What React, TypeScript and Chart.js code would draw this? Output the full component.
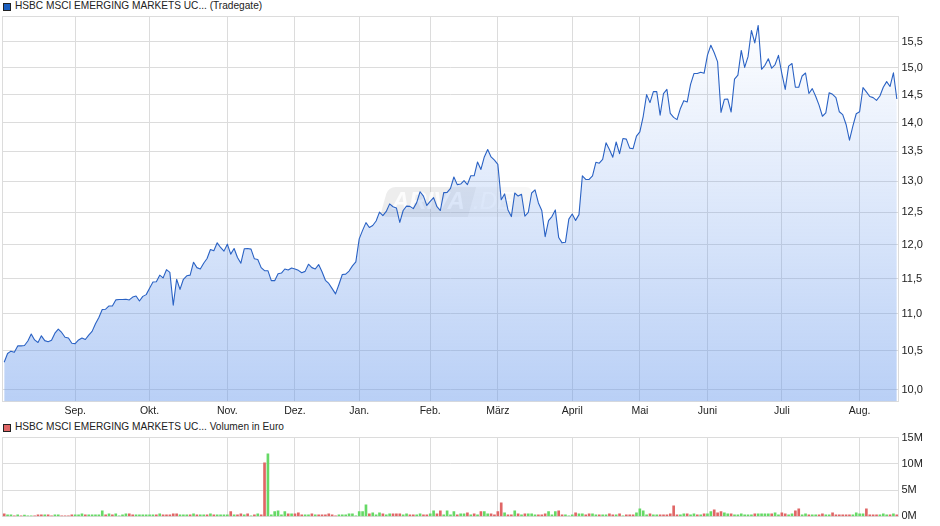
import { useEffect, useRef } from 'react';
import { Chart, registerables } from 'chart.js';

Chart.register(...registerables);

const FONT = '"Liberation Sans", Arial, sans-serif';
const GRID = '#dcdcdc';

const PRICE_TITLE = 'HSBC MSCI EMERGING MARKETS UC... (Tradegate)';
const VOLUME_TITLE = 'HSBC MSCI EMERGING MARKETS UC... Volumen in Euro';

const MONTH_LABELS = ['Sep.', 'Okt.', 'Nov.', 'Dez.', 'Jan.', 'Feb.', 'März', 'April', 'Mai', 'Juni', 'Juli', 'Aug.'];
const MONTH_INDEX = [21, 43, 66, 86, 105, 126, 146, 168, 188, 208, 230, 253];

const PRICE_TICKS = [10, 10.5, 11, 11.5, 12, 12.5, 13, 13.5, 14, 14.5, 15, 15.5];
const VOLUME_TICKS = [0, 5, 10, 15];

const CLOSES = [
  10.35, 10.465, 10.495, 10.48, 10.565, 10.565, 10.57, 10.63, 10.725, 10.645,
  10.61, 10.7, 10.635, 10.62, 10.64, 10.735, 10.79, 10.745, 10.68, 10.67,
  10.6, 10.595, 10.645, 10.67, 10.65, 10.71, 10.76, 10.865, 10.95, 11.06,
  11.065, 11.11, 11.11, 11.195, 11.2, 11.2, 11.205, 11.195, 11.235, 11.25,
  11.18, 11.245, 11.27, 11.36, 11.45, 11.455, 11.55, 11.51, 11.63, 11.59,
  11.12, 11.49, 11.345, 11.49, 11.54, 11.55, 11.74, 11.66, 11.64, 11.725,
  11.795, 11.93, 11.91, 12.03, 11.96, 11.905, 12.01, 11.86, 11.945, 11.81,
  11.725, 11.94, 11.945, 11.935, 11.79, 11.78, 11.66, 11.615, 11.615, 11.47,
  11.47, 11.57, 11.58, 11.64, 11.625, 11.655, 11.64, 11.62, 11.585, 11.605,
  11.71, 11.66, 11.64, 11.705,
  11.6, 11.475, 11.43, 11.355, 11.28, 11.415, 11.56, 11.565, 11.61, 11.685,
  11.745, 12.09, 12.22, 12.34, 12.265, 12.295, 12.365, 12.505, 12.45, 12.515,
  12.635, 12.59, 12.57, 12.345, 12.53, 12.6, 12.595, 12.56, 12.655, 12.83,
  12.76, 12.61, 12.675, 12.735, 12.59, 12.53, 12.815, 12.82, 12.885, 13.07,
  12.945, 12.955, 13.01, 12.945, 13.09, 13.09, 13.32, 13.195, 13.405, 13.53,
  13.405, 13.35, 13.28, 12.7, 12.795, 12.54, 12.435, 12.81, 12.76, 12.79,
  12.44, 12.5, 12.81, 12.86, 12.65, 12.53, 12.125, 12.37, 12.435, 12.54,
  12.11, 12.03, 12.04, 12.395, 12.475, 12.375, 12.465, 13.09, 13.03, 13.03,
  13.09, 13.315, 13.3, 13.365, 13.645, 13.53, 13.4, 13.66, 13.46, 13.72,
  13.71, 13.555, 13.545, 13.76, 13.835,
  14.11, 14.5, 14.355, 14.555, 14.555, 14.13, 14.52, 14.595, 14.16, 14.09,
  14.05, 14.25, 14.39, 14.365, 14.69, 14.89, 14.89, 14.915, 14.895, 15.24,
  15.43, 15.285, 15.11, 14.18, 14.415, 14.42, 14.185, 14.785, 14.86, 15.33,
  15.005, 15.21, 15.72, 15.475, 15.82, 14.97, 15.045, 15.17, 14.99, 15.06,
  15.235, 14.89, 14.595, 15.03, 15.08, 14.635, 14.635, 14.845, 14.9, 14.52,
  14.61, 14.47, 14.31, 14.11, 14.17, 14.535, 14.505, 14.445, 14.19, 14.14,
  13.965, 13.69, 13.935, 14.155, 14.19, 14.63, 14.55, 14.465, 14.445, 14.395,
  14.475, 14.635, 14.74, 14.65, 14.905, 14.42,
];

// in millions of euro
const VOLUMES = [
  0.5, 0.32, 0.32, 0.13, 0.32, 0.13, 0.25, 0.13, 0.13, 0.13,
  0.32, 0.32, 0.32, 0.32, 0.13, 0.32, 0.32, 0.13, 0.13, 0.13,
  0.32, 0.32, 0.32, 0.5, 0.32, 0.32, 0.32, 0.32, 0.32, 1.08,
  0.32, 0.5, 0.32, 0.5, 0.13, 0.32, 0.5, 0.5, 0.32, 0.32,
  0.32, 0.32, 0.32, 0.32, 0.32, 0.32, 0.5, 0.32, 0.32, 0.32,
  0.5, 0.5, 0.32, 0.32, 0.32, 0.32, 0.5, 0.32, 0.32, 0.32,
  0.32, 0.5, 0.32, 0.32, 0.32, 0.32, 0.32, 0.9, 0.32, 0.32,
  0.5, 0.32, 0.5, 0.13, 0.32, 0.5, 0.32, 10.2, 11.9, 0.32,
  0.9, 1.08, 0.32, 0.9, 0.5, 0.5, 0.5, 0.7, 0.32, 0.32,
  0.32, 0.5, 0.32, 0.32,
  0.32, 0.32, 0.5, 0.32, 0.13, 0.32, 0.32, 0.32, 0.5, 0.5,
  0.13, 0.9, 0.9, 2.2, 0.5, 0.7, 0.32, 0.7, 0.5, 0.32,
  0.5, 0.5, 0.5, 0.5, 0.32, 0.5, 0.32, 0.32, 0.32, 0.5,
  0.32, 0.32, 0.5, 1.08, 0.5, 1.08, 0.32, 1.08, 0.32, 0.9,
  0.32, 0.5, 0.5, 0.7, 0.32, 0.5, 0.32, 0.9, 0.9, 0.5,
  0.5, 0.32, 0.9, 2.6, 0.7, 0.32, 0.32, 1.08, 0.5, 0.32,
  0.5, 0.5, 0.5, 0.32, 0.32, 0.32, 0.5, 0.9, 0.32, 0.9,
  1.08, 0.32, 0.32, 0.13, 0.32, 0.7, 0.5, 0.5, 0.32, 0.5,
  0.5, 0.32, 0.32, 0.32, 0.32, 0.5, 0.32, 0.32, 0.5, 0.13,
  0.32, 0.32, 0.32, 0.7, 1.45,
  1.08, 0.32, 0.5, 0.32, 0.32, 0.32, 0.32, 0.32, 0.5, 2.0,
  0.32, 0.32, 0.5, 0.5, 0.32, 0.5, 0.32, 0.32, 0.5, 0.5,
  0.9, 1.27, 0.7, 0.9, 0.7, 0.5, 0.5, 0.32, 0.32, 0.5,
  0.32, 0.32, 0.32, 0.5, 0.5, 0.5, 0.5, 0.5, 0.5, 0.7,
  0.32, 0.7, 0.5, 0.32, 0.5, 1.08, 1.45, 0.32, 0.5, 0.32,
  0.32, 0.32, 0.32, 0.5, 0.32, 0.32, 0.7, 0.32, 0.32, 0.32,
  0.32, 0.32, 0.32, 0.7, 0.5, 0.5, 1.45, 0.32, 0.32, 0.32,
  0.32, 0.5, 0.32, 0.32, 0.5, 0.32,
];

// r = red bar, g = green bar, one letter per volume
const VOLUME_SIDES = [
  'rggrgrgggr', 'rrgrrggrrr', 'rgggrggggg', 'rgrggggrrg', 'gggggrgrrr', 'rrgggrgrgg', 'rgrggggrgr', 'rgrgrgrrgg', 'ggggrgrrrg', 'grgr',
  'rrrrrggggg', 'ggggrgggrg', 'grrrggrrgg', 'rrggrrgggg', 'rggrgrgrgg', 'rrrrgrrgrg', 'rgggrrrggg', 'rrgggrggrr', 'ggrggrrgrg', 'rrrgg',
  'ggrggrrrrr', 'rggrggrgrg', 'grrrggrggg', 'gggrggggrg', 'grrggrrggr', 'ggrrggrrrr', 'rrggggrrrr', 'gggrgr',
].join('');

const framePlugin = {
  id: 'frame',
  beforeDatasetsDraw(chart: Chart) {
    const { ctx, chartArea: a } = chart;
    ctx.save();
    ctx.strokeStyle = GRID;
    ctx.lineWidth = 1;
    ctx.strokeRect(a.left, a.top, a.right - a.left, a.bottom - a.top);
    ctx.restore();
  },
};

// the faint logo behind the line, leaning like the lettering
const watermarkPlugin = {
  id: 'watermark',
  beforeDatasetsDraw(chart: Chart) {
    const { ctx } = chart;
    ctx.save();
    ctx.transform(1, 0, -0.28, 1, 0.28 * 202, 0);
    ctx.fillStyle = 'rgba(150,150,150,0.17)';
    ctx.beginPath();
    ctx.roundRect(384, 187, 88, 30, [7, 0, 0, 7]);
    ctx.fill();
    ctx.fillStyle = 'rgba(150,150,150,0.08)';
    ctx.beginPath();
    ctx.roundRect(472, 187, 57, 30, [0, 7, 7, 0]);
    ctx.fill();
    ctx.restore();
    ctx.save();
    ctx.fillStyle = 'rgba(255,255,255,0.8)';
    ctx.font = `italic bold 24px ${FONT}`;
    ctx.textBaseline = 'middle';
    ctx.fillText('ARIVA', 392, 202);
    ctx.font = `italic 24px ${FONT}`;
    ctx.fillText('.DE', 473, 202);
    ctx.restore();
  },
};

function xAxis(showLabels: boolean, height: number) {
  return {
    type: 'linear' as const,
    offset: false,
    min: -0.5,
    max: CLOSES.length - 0.5,
    afterBuildTicks: (axis: any) => {
      axis.ticks = MONTH_INDEX.map((value) => ({ value }));
    },
    afterFit: (axis: any) => {
      axis.height = height;
    },
    grid: { color: GRID, drawTicks: false, offset: false },
    border: { color: GRID },
    ticks: {
      display: showLabels,
      autoSkip: false,
      maxRotation: 0,
      padding: 3,
      color: '#222',
      font: { family: FONT, size: 10.5 },
      callback: (_v: any, i: number) => MONTH_LABELS[i],
    },
  };
}

function yTicks(callback: (v: any) => string) {
  return {
    autoSkip: false,
    padding: 3,
    color: '#222',
    font: { family: FONT, size: 11 },
    callback,
  };
}

export default function App() {
  const priceRef = useRef<HTMLCanvasElement>(null);
  const volumeRef = useRef<HTMLCanvasElement>(null);

  useEffect(() => {
    if (!priceRef.current || !volumeRef.current) return;

    const price = new Chart(priceRef.current, {
      type: 'line',
      data: {
        datasets: [{
          data: CLOSES.map((y, x) => ({ x, y })),
          borderColor: '#2a62c4',
          borderWidth: 1.1,
          borderJoinStyle: 'round',
          pointRadius: 0,
          tension: 0,
          fill: 'start',
          backgroundColor: (c: any) => {
            const a = c.chart.chartArea;
            if (!a) return 'transparent';
            const g = c.chart.ctx.createLinearGradient(0, a.top, 0, a.bottom);
            g.addColorStop(0, 'rgba(100,150,235,0)');
            g.addColorStop(1, 'rgba(100,150,235,0.45)');
            return g;
          },
        }],
      },
      options: {
        animation: false,
        responsive: false,
        layout: { padding: { top: 16.5, left: 2.5, right: 0, bottom: 0 } },
        plugins: { legend: { display: false }, tooltip: { enabled: false } },
        scales: {
          x: xAxis(true, 18.5),
          y: {
            type: 'logarithmic',
            position: 'right',
            min: 9.85,
            max: 16,
            afterBuildTicks: (axis: any) => {
              axis.ticks = PRICE_TICKS.map((value) => ({ value }));
            },
            afterFit: (axis: any) => {
              axis.width = 41.5;
            },
            grid: { color: GRID, drawTicks: false },
            border: { color: GRID },
            ticks: yTicks((v) => Number(v).toFixed(1).replace('.', ',')),
          },
        },
      },
      plugins: [framePlugin, watermarkPlugin],
    } as any);

    const volume = new Chart(volumeRef.current, {
      type: 'bar',
      data: {
        datasets: [{
          data: VOLUMES.map((y, x) => ({ x, y })),
          backgroundColor: VOLUMES.map((_, i) => (VOLUME_SIDES[i] === 'r' ? '#e06666' : '#66d966')),
          barThickness: 2,
        }],
      },
      options: {
        animation: false,
        responsive: false,
        layout: { padding: { top: 17.5, left: 2.5, right: 0, bottom: 9.5 } },
        plugins: { legend: { display: false }, tooltip: { enabled: false } },
        scales: {
          x: xAxis(false, 0),
          y: {
            position: 'right',
            min: 0,
            max: 15,
            afterBuildTicks: (axis: any) => {
              axis.ticks = VOLUME_TICKS.map((value) => ({ value }));
            },
            afterFit: (axis: any) => {
              axis.width = 41.5;
            },
            grid: { color: GRID, drawTicks: false },
            border: { color: GRID },
            ticks: yTicks((v) => `${v}M`),
          },
        },
      },
      plugins: [framePlugin],
    } as any);

    return () => {
      price.destroy();
      volume.destroy();
    };
  }, []);

  const titleStyle = {
    position: 'absolute' as const,
    left: 15,
    font: `10.15px ${FONT}`,
    color: '#222',
    whiteSpace: 'nowrap' as const,
    lineHeight: '12px',
  };
  const swatchStyle = {
    position: 'absolute' as const,
    left: 3,
    width: 6,
    height: 6,
    border: '1px solid #222',
  };

  return (
    <div style={{ position: 'absolute', left: 0, top: 0, width: 940, height: 526, background: '#fff', overflow: 'hidden' }}>
      <span style={{ ...swatchStyle, top: 3, background: '#1c5fbf' }} />
      <div style={{ ...titleStyle, top: 0 }}>{PRICE_TITLE}</div>
      <span style={{ ...swatchStyle, top: 424, background: '#e06666' }} />
      <div style={{ ...titleStyle, top: 421 }}>{VOLUME_TITLE}</div>
      <canvas ref={priceRef} width={940} height={420} style={{ position: 'absolute', left: 0, top: 0 }} />
      <canvas ref={volumeRef} width={940} height={106} style={{ position: 'absolute', left: 0, top: 420 }} />
    </div>
  );
}
